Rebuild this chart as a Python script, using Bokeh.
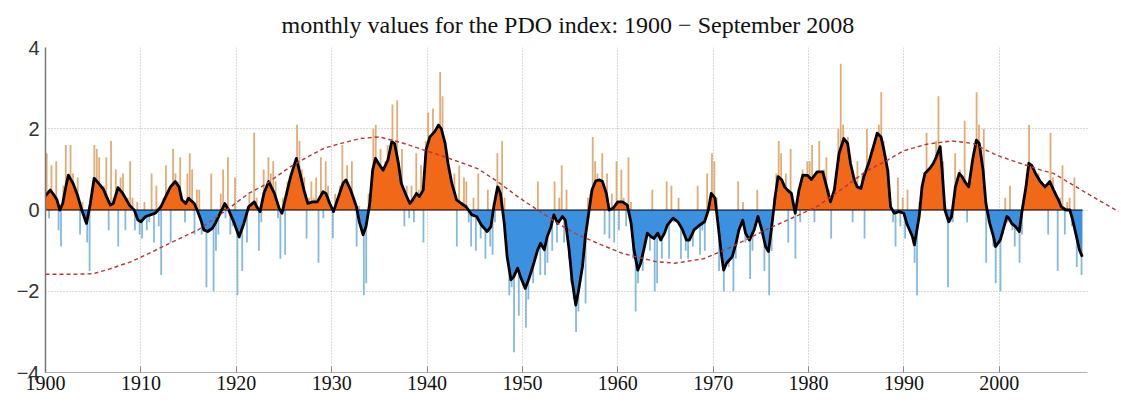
import numpy as np
from bokeh.plotting import figure
from bokeh.models import FixedTicker, Range1d
from bokeh.embed import file_html
from bokeh.resources import INLINE

# ---------------- data ----------------
title_text = "monthly values for the PDO index: 1900 \u2212 September 2008"
x_ticks = [1900, 1910, 1920, 1930, 1940, 1950, 1960, 1970, 1980, 1990, 2000]
y_ticks = [-4, -2, 0, 2, 4]
y_tick_labels = ["\u22124", "\u22122", "0", "2", "4"]

pdo_start_year = 1900
# index values, four per year (quarters), 1900 .. Sep 2008
pdo_values = [
    1.4, -0.2, 1.1, 0.3,   1.2, -0.5, -0.9, 0.6,   1.6, 0.5, 1.6, 0.9,   0.5, 0.8, -0.6, 0.2,
    -0.3, -0.8, -1.5, 0.4,  1.6, 1.5, 1.3, 0.2,    0.6, 1.3, -0.5, 1.7,  0.3, 1.0, -0.9, 0.8,
    0.9, -0.5, 0.3, 1.2,   0.3, -0.5, 0.2, -0.6,   -0.7, 0.2, -0.5, -0.3, 0.9, -0.8, 0.6, -0.4,
    -1.6, 0.3, 1.1, 0.5,   -0.8, 1.5, 0.9, 0.7,    1.3, 0.1, -0.3, 0.9,  1.4, 1.0, -0.6, 0.5,
    0.5, -0.6, -0.3, -1.9, -0.4, 0.9, -2.0, -1.0,  -0.6, 0.4, 1.0, -0.2, 1.3, -0.6, -0.4, 0.8,
    -2.1, -0.7, -1.5, -0.2, -0.8, 0.4, 0.2, 1.9,   0.3, -1.0, -0.3, 1.0, 0.5, 1.3, 0.9, 1.2,
    0.7, -0.2, -1.2, 0.3,  -1.1, 0.7, 0.5, 1.0,    0.9, 2.1, 1.7, 1.0,   0.8, -0.7, 0.3, 0.7,
    0.3, 0.8, -1.3, 1.3,   -0.2, 1.2, 0.6, 0.1,    -0.7, 0.4, 0.1, 0.6,  1.6, 0.5, 1.1, 0.2,
    1.2, 0.3, -0.9, 0.1,   -0.4, -2.1, -1.8, 0.4,  0.4, 2.0, 2.1, 1.0,   1.5, 0.7, 1.2, 1.6,
    1.2, 2.6, 1.4, 2.7,    1.0, 1.5, -0.4, 0.6,    -0.2, 0.6, -0.3, 1.4, 0.5, 1.1, -0.8, 1.7,
    2.4, 1.5, 2.5, 1.8,    1.7, 3.4, 2.8, 1.5,     1.4, 0.8, 0.5, 0.9,   -0.9, 1.1, 0.2, 0.8,
    0.7, -0.3, -0.9, 0.3,  -1.0, 0.9, -0.7, -0.2,  -1.2, 0.5, -0.9, -1.1, -0.3, 1.4, 0.6, 1.7,
    0.3, -1.0, -2.1, -1.9, -3.5, -1.2, -2.6, -1.4, -1.6, -2.9, -2.2, -1.5, -1.8, -1.2, 0.7, -1.6,
    -0.5, -1.6, -1.3, -0.3, -1.0, 0.7, -0.8, 0.3,  1.1, -0.8, 0.5, -1.2, -1.8, -2.2, -3.0, -2.5,
    -1.7, -1.1, -2.3, 0.3, 0.4, 1.8, 1.2, 0.9,     0.5, 1.4, -0.6, 0.9,  -0.7, 0.4, -0.8, 1.2,
    -0.5, 1.0, 0.3, -0.4,  1.3, 0.2, -1.2, -2.5,   -1.8, -1.3, -1.5, -0.6, -0.4, -1.0, 0.5, -2.0,
    -1.8, -0.3, -1.2, -0.4, 0.7, -1.2, 0.6, -0.3,  -0.2, 0.3, -1.2, -0.6, -1.0, -1.2, -0.4, -0.9,
    -0.3, 0.6, -1.1, -0.5, -1.0, 0.9, 0.2, 1.4,    1.2, 0.3, -1.5, -1.1, -2.0, -1.1, -1.4, -0.9,
    -2.0, -1.2, 0.7, -0.4, 0.2, -0.8, -0.6, -1.7,  -1.0, -0.4, 0.5, 0.0, -0.6, -1.5, -0.9, -2.1,
    -1.0, 0.3, 0.9, 1.7,   1.4, 0.6, 0.9, -0.8,    1.5, 0.2, -1.2, 0.1,  -0.3, 1.0, 0.7, 1.2,
    1.2, 1.6, -0.3, 0.8,   1.7, 0.6, 1.0, 1.3,     0.5, -0.7, 0.5, 0.3,  2.0, 3.6, 2.1, 1.4,
    1.8, 1.3, -0.3, 0.8,   1.2, 0.6, 0.9, -0.7,    2.0, 0.9, 1.5, 1.4,   1.6, 2.1, 2.9, 1.7,
    1.2, 1.0, 0.2, -0.3,   -0.9, 0.8, -0.4, 0.3,   -0.7, 0.5, -0.3, -0.6, -1.3, -2.1, 0.2, 0.6,
    0.8, 1.9, 0.5, 1.1,    1.2, 1.7, 2.8, 1.1,     1.2, 0.1, -1.9, -0.3, -0.3, 1.4, 0.8, 1.0,
    0.6, 2.2, -0.3, 0.7,   1.0, 1.5, 2.9, 2.1,     1.5, 2.0, -1.3, -0.3, -0.4, -0.9, -1.8, -0.7,
    -2.0, -0.6, 0.3, -0.3, 0.6, -0.5, -0.9, -0.2,  -1.3, -0.6, 0.3, 0.9, 2.1, 1.0, 0.9, 0.6,
    0.9, 0.5, 0.4, 0.6,    -0.6, 1.9, 0.8, 0.4,    -1.5, 0.3, 1.1, -0.6, 0.2, 0.3, -0.4, 0.8,
    -1.4, -1.0, -1.6,
]

# smoothed index (black line)
smooth_years = [
    1900.0, 1900.2, 1900.5, 1900.8, 1901.2, 1901.5, 1901.8, 1902.2, 1902.4, 1902.9, 1903.4, 1903.8,
    1904.3, 1904.7, 1905.1, 1905.6, 1906.1, 1906.4, 1906.8, 1907.1, 1907.6, 1908.1, 1908.8, 1909.3,
    1909.7, 1910.0, 1910.5, 1911.0, 1911.5, 1912.1, 1912.6, 1913.1, 1913.6, 1914.0, 1914.3, 1914.7,
    1915.0, 1915.6, 1915.9, 1916.3, 1916.6, 1917.0, 1917.5, 1917.8, 1918.4, 1918.8, 1919.2, 1919.8,
    1920.3, 1920.8, 1921.3, 1921.9, 1922.2, 1922.5, 1922.9, 1923.4, 1924.0, 1924.5, 1924.8, 1925.2,
    1925.7, 1926.3, 1926.6, 1927.1, 1927.5, 1928.0, 1928.5, 1929.1, 1929.4, 1929.8, 1930.2, 1930.6,
    1931.2, 1931.5, 1932.0, 1932.6, 1932.9, 1933.3, 1933.6, 1934.0, 1934.3, 1934.6, 1934.9, 1935.4,
    1935.9, 1936.3, 1936.6, 1937.0, 1937.3, 1937.8, 1938.2, 1938.5, 1938.9, 1939.2, 1939.6, 1939.9,
    1940.3, 1940.8, 1941.2, 1941.5, 1941.9, 1942.2, 1942.6, 1943.1, 1943.6, 1944.1, 1944.7, 1945.2,
    1945.7, 1946.3, 1946.7, 1947.0, 1947.4, 1947.7, 1948.1, 1948.4, 1948.8, 1949.1, 1949.5, 1949.8,
    1950.3, 1950.7, 1951.2, 1951.6, 1951.9, 1952.3, 1952.6, 1953.0, 1953.3, 1953.7, 1954.2, 1954.5,
    1954.9, 1955.2, 1955.6, 1955.9, 1956.3, 1956.6, 1957.0, 1957.3, 1957.7, 1958.1, 1958.4, 1958.8,
    1959.1, 1959.5, 1960.0, 1960.5, 1961.0, 1961.4, 1961.7, 1962.1, 1962.4, 1962.8, 1963.1, 1963.5,
    1963.8, 1964.2, 1964.5, 1964.9, 1965.2, 1965.8, 1966.3, 1966.8, 1967.2, 1967.5, 1968.0, 1968.6,
    1969.1, 1969.5, 1969.8, 1970.2, 1970.5, 1970.9, 1971.1, 1971.4, 1971.7, 1972.0, 1972.4, 1972.7,
    1973.1, 1973.4, 1973.8, 1974.3, 1974.7, 1975.1, 1975.5, 1975.8, 1976.1, 1976.5, 1976.8, 1977.2,
    1977.5, 1977.8, 1978.2, 1978.6, 1979.0, 1979.4, 1979.9, 1980.3, 1980.9, 1981.5, 1981.8, 1982.3,
    1982.7, 1983.2, 1983.7, 1984.1, 1984.4, 1984.8, 1985.1, 1985.5, 1985.8, 1986.3, 1986.9, 1987.2,
    1987.6, 1987.9, 1988.3, 1988.6, 1989.0, 1989.5, 1990.0, 1990.3, 1990.9, 1991.1, 1991.6, 1991.9,
    1992.2, 1992.7, 1993.1, 1993.4, 1993.8, 1994.0, 1994.3, 1994.7, 1995.0, 1995.4, 1995.8, 1996.1,
    1996.5, 1996.8, 1997.2, 1997.6, 1997.9, 1998.3, 1998.6, 1999.0, 1999.4, 1999.6, 2000.1, 2000.4,
    2000.8, 2001.0, 2001.3, 2001.7, 2002.1, 2002.4, 2002.8, 2003.1, 2003.4, 2003.8, 2004.3, 2004.8,
    2005.3, 2005.7, 2006.2, 2006.5, 2007.0, 2007.4, 2007.7, 2008.1, 2008.4, 2008.7,
]
smooth_values = [
    0.35, 0.41, 0.49, 0.40, 0.25, 0.00, 0.16, 0.65, 0.86, 0.65, 0.33, 0.00,
    -0.33, 0.16, 0.78, 0.65, 0.50, 0.33, 0.12, 0.16, 0.55, 0.41, 0.12, 0.00,
    -0.25, -0.29, -0.16, -0.12, -0.08, 0.08, 0.33, 0.57, 0.70, 0.57, 0.25, 0.16,
    0.29, 0.16, 0.00, -0.25, -0.49, -0.53, -0.45, -0.33, -0.04, 0.16, 0.00, -0.33,
    -0.66, -0.33, 0.08, 0.20, 0.06, -0.04, 0.41, 0.70, 0.41, 0.04, -0.08, 0.33,
    0.82, 1.27, 0.98, 0.49, 0.16, 0.20, 0.20, 0.45, 0.41, 0.16, -0.04, 0.25,
    0.66, 0.74, 0.49, 0.08, -0.29, -0.61, -0.41, 0.16, 0.98, 1.27, 1.15, 0.98,
    1.23, 1.68, 1.64, 1.15, 0.66, 0.37, 0.16, 0.25, 0.41, 0.33, 0.49, 1.48,
    1.80, 1.93, 2.09, 2.00, 1.64, 1.15, 0.66, 0.25, 0.16, 0.08, -0.12, -0.16,
    -0.37, -0.53, -0.41, 0.08, 0.57, 0.41, -0.33, -1.15, -1.72, -1.64, -1.43, -1.64,
    -1.93, -1.68, -1.31, -0.98, -0.82, -0.98, -0.66, -0.41, -0.12, -0.33, -0.16, -0.25,
    -0.98, -1.72, -2.34, -1.97, -1.39, -0.66, 0.00, 0.50, 0.72, 0.74, 0.70, 0.41,
    0.00, 0.04, 0.20, 0.20, 0.12, -0.33, -0.98, -1.48, -1.31, -0.90, -0.57, -0.66,
    -0.70, -0.57, -0.74, -0.57, -0.37, -0.20, -0.29, -0.49, -0.74, -0.74, -0.49, -0.37,
    -0.29, 0.00, 0.41, 0.29, -0.33, -1.15, -1.48, -1.31, -1.23, -1.15, -0.82, -0.49,
    -0.25, -0.57, -0.74, -0.49, -0.16, -0.49, -0.90, -1.02, -0.49, 0.33, 0.82, 0.74,
    0.57, 0.49, 0.41, -0.08, 0.49, 0.86, 0.85, 0.75, 0.94, 0.94, 0.66, 0.20,
    0.49, 1.39, 1.76, 1.64, 1.15, 0.74, 0.57, 0.53, 0.82, 1.15, 1.64, 1.89,
    1.80, 1.48, 0.98, 0.08, -0.08, -0.04, -0.08, -0.33, -0.66, -0.86, -0.16, 0.57,
    0.90, 1.02, 1.15, 1.31, 1.56, 1.00, 0.00, -0.29, -0.16, 0.57, 0.90, 0.82,
    0.66, 0.57, 1.23, 1.72, 1.64, 0.98, 0.16, -0.33, -0.66, -0.90, -0.74, -0.49,
    -0.16, -0.20, -0.33, -0.41, -0.53, 0.00, 0.57, 1.15, 1.10, 0.90, 0.70, 0.57,
    0.70, 0.49, 0.25, 0.08, 0.00, 0.00, -0.25, -0.66, -0.98, -1.15,
]

# fitted oscillation (red dashed curve)
trend_years = [1900, 1903, 1905, 1906.6, 1909, 1911, 1913, 1916, 1919, 1921.3, 1923, 1925.7,
               1927.5, 1929.2, 1931, 1933, 1935, 1937.3, 1940.8, 1943.3, 1945.3, 1947.4, 1949.5,
               1951.6, 1953.7, 1955.8, 1957.7, 1960.5, 1964, 1966, 1969, 1972, 1975.5, 1979,
               1981, 1984, 1986, 1988.3, 1990, 1992.4, 1995, 1997.2, 1999.7, 2002.2, 2004.4,
               2005.7, 2009.2, 2012.5]
trend_values = [-1.58, -1.58, -1.57, -1.46, -1.27, -1.05, -0.82, -0.49, 0.0, 0.41, 0.62, 1.07,
                1.31, 1.52, 1.64, 1.76, 1.80, 1.66, 1.39, 1.19, 1.02, 0.70, 0.33,
                0.0, -0.33, -0.61, -0.80, -1.07, -1.27, -1.31, -1.20, -0.90, -0.49, -0.12,
                0.10, 0.60, 0.95, 1.23, 1.46, 1.62, 1.70, 1.64, 1.35, 1.15, 0.98,
                0.90, 0.41, -0.04]

# ---------------- figure ----------------
W, H = 1121, 403
p = figure(width=W, height=H, output_backend="svg", toolbar_location=None,
           x_range=Range1d(1900, 2012.5), y_range=Range1d(-4, 4),
           min_border_left=45, min_border_right=3, min_border_top=47, min_border_bottom=31)
p.outline_line_color = None
p.background_fill_color = "white"
p.border_fill_color = "white"

p.title.text = title_text
p.title.align = "left"
p.title.offset = 236
p.title.vertical_align = "top"
p.title.text_font = "Liberation Serif"
p.title.text_font_size = "24px"
p.title.text_font_style = "normal"
p.title.text_color = "#111111"
try:
    p.title.standoff = 16
except Exception:
    pass

# grid
p.xgrid.ticker = FixedTicker(ticks=x_ticks)
p.ygrid.ticker = FixedTicker(ticks=y_ticks)
for g in (p.xgrid, p.ygrid):
    g.grid_line_color = "#b4b4b4"
    g.grid_line_dash = "1 2"
    g.grid_line_width = 1
try:
    p.ygrid.cross_bounds = (1900, 2009.3)
except Exception:
    pass

# axes
p.xaxis.ticker = FixedTicker(ticks=x_ticks)
p.xaxis.bounds = (1900, 2009.3)
p.xaxis.axis_line_color = "#b0b0b0"
p.xaxis.major_tick_line_color = "#888888"
p.xaxis.major_tick_in = 6
p.xaxis.major_tick_out = 0
p.xaxis.minor_tick_line_color = None
p.xaxis.major_label_text_font = "Liberation Serif"
p.xaxis.major_label_text_font_size = "20px"
p.xaxis.major_label_text_color = "#111111"
p.xaxis.major_label_standoff = 3

p.yaxis.ticker = FixedTicker(ticks=y_ticks)
p.yaxis.major_label_overrides = {t: s for t, s in zip(y_ticks, y_tick_labels)}
p.yaxis.axis_line_color = "#777777"
p.yaxis.axis_line_width = 1.5
p.yaxis.major_tick_line_color = None
p.yaxis.minor_tick_line_color = None
p.yaxis.major_label_text_font = "Liberation Sans"
p.yaxis.major_label_text_font_size = "20px"
p.yaxis.major_label_text_color = "#333333"
p.yaxis.major_label_standoff = 0

# quarterly spikes
vals = np.array(pdo_values)
xq = pdo_start_year + 0.125 + 0.25 * np.arange(len(vals))
posv = np.where(vals > 0, vals, 0.0)
negv = np.where(vals < 0, vals, 0.0)
p.vbar(x=xq, top=posv, bottom=0, width=0.19, fill_color="#DDA468", line_color=None, fill_alpha=0.9)
p.vbar(x=xq, top=0, bottom=negv, width=0.19, fill_color="#78B2DC", line_color=None, fill_alpha=0.9)

# smoothed area with exact zero crossings
sx = np.array(smooth_years, dtype=float)
sv = np.array(smooth_values, dtype=float)
fx, fv = [sx[0]], [sv[0]]
for i in range(1, len(sx)):
    a, b = sv[i - 1], sv[i]
    if a * b < 0:
        t = a / (a - b)
        fx.append(sx[i - 1] + t * (sx[i] - sx[i - 1]))
        fv.append(0.0)
    fx.append(sx[i])
    fv.append(sv[i])
fx = np.array(fx)
fv = np.array(fv)
p.varea(x=fx, y1=0, y2=np.maximum(fv, 0), fill_color="#F06818")
p.varea(x=fx, y1=0, y2=np.minimum(fv, 0), fill_color="#3C90E0")

# zero line
p.line(x=[pdo_start_year, xq[-1] + 0.125], y=[0, 0], line_color="black", line_width=1.2)

# smoothed line
p.line(x=sx, y=sv, line_color="black", line_width=2.8, line_join="round")

# red dashed oscillation
p.line(x=trend_years, y=trend_values, line_color="#B8383A", line_width=1.4, line_dash="4 3")

open("out.html", "w").write(file_html(p, INLINE))
